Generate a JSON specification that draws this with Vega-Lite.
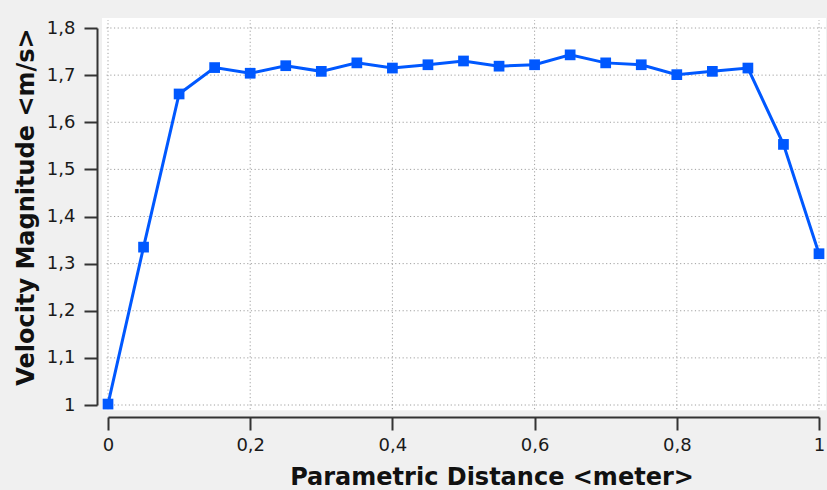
{
  "$schema": "https://vega.github.io/schema/vega-lite/v6.json",
  "width": 711,
  "height": 377,
  "autosize": {"type": "none"},
  "padding": {"left": 108, "top": 28, "right": 8, "bottom": 85},
  "background": "#f0f0f0",
  "config": {"view": {"stroke": null}, "font": "DejaVu Sans"},
  "datasets": {
    "profile": [
      {"distance": 0.0, "velocity": 1.002},
      {"distance": 0.05, "velocity": 1.335},
      {"distance": 0.1, "velocity": 1.660},
      {"distance": 0.15, "velocity": 1.716},
      {"distance": 0.2, "velocity": 1.704},
      {"distance": 0.25, "velocity": 1.720},
      {"distance": 0.3, "velocity": 1.708},
      {"distance": 0.35, "velocity": 1.726},
      {"distance": 0.4, "velocity": 1.715},
      {"distance": 0.45, "velocity": 1.722},
      {"distance": 0.5, "velocity": 1.730},
      {"distance": 0.55, "velocity": 1.719},
      {"distance": 0.6, "velocity": 1.722},
      {"distance": 0.65, "velocity": 1.743},
      {"distance": 0.7, "velocity": 1.726},
      {"distance": 0.75, "velocity": 1.722},
      {"distance": 0.8, "velocity": 1.701},
      {"distance": 0.85, "velocity": 1.708},
      {"distance": 0.9, "velocity": 1.715},
      {"distance": 0.95, "velocity": 1.553},
      {"distance": 1.0, "velocity": 1.321}
    ],
    "xgrid": [
      {"gx": 0}, {"gx": 0.2}, {"gx": 0.4}, {"gx": 0.6}, {"gx": 0.8}, {"gx": 1}
    ],
    "ygrid": [
      {"gy": 1}, {"gy": 1.1}, {"gy": 1.2}, {"gy": 1.3}, {"gy": 1.4},
      {"gy": 1.5}, {"gy": 1.6}, {"gy": 1.7}, {"gy": 1.8}
    ]
  },
  "encoding": {
    "x": {
      "type": "quantitative",
      "title": "Parametric Distance <meter>",
      "scale": {"domain": [0, 1], "nice": false, "zero": false},
      "axis": {
        "values": [0, 0.2, 0.4, 0.6, 0.8, 1],
        "format": "~g",
        "labelExpr": "replace(datum.label, '.', ',')",
        "grid": false,
        "offset": 12,
        "domainColor": "#333333",
        "domainWidth": 2,
        "tickColor": "#333333",
        "tickWidth": 2,
        "tickSize": 13,
        "labelFont": "DejaVu Sans",
        "labelFontSize": 18,
        "labelColor": "#1a1a1a",
        "labelPadding": 6,
        "labelFlush": false,
        "titleFont": "DejaVu Sans",
        "titleFontSize": 24,
        "titleFontWeight": "bold",
        "titleColor": "#111111",
        "titleBaseline": "alphabetic",
        "titleAnchor": "middle",
        "titleX": 383.5,
        "titleY": 67
      }
    },
    "y": {
      "type": "quantitative",
      "title": "Velocity Magnitude <m/s>",
      "scale": {"domain": [1, 1.8], "nice": false, "zero": false},
      "axis": {
        "values": [1, 1.1, 1.2, 1.3, 1.4, 1.5, 1.6, 1.7, 1.8],
        "format": "~g",
        "labelExpr": "replace(datum.label, '.', ',')",
        "grid": false,
        "offset": 11,
        "domainColor": "#333333",
        "domainWidth": 2,
        "tickColor": "#333333",
        "tickWidth": 2,
        "tickSize": 13,
        "labelFont": "DejaVu Sans",
        "labelFontSize": 18,
        "labelColor": "#1a1a1a",
        "labelPadding": 9,
        "labelFlush": false,
        "titleFont": "DejaVu Sans",
        "titleFontSize": 24,
        "titleFontWeight": "bold",
        "titleColor": "#111111",
        "titleAngle": 270,
        "titleBaseline": "alphabetic",
        "titleAnchor": "middle",
        "titleX": -64,
        "titleY": 178.5
      }
    }
  },
  "layer": [
    {
      "description": "white plotting panel",
      "data": {"values": [{}]},
      "mark": {"type": "rect", "color": "white", "clip": false},
      "encoding": {
        "x": {"datum": -0.0084},
        "x2": {"datum": 1.0098},
        "y": {"datum": 0.989},
        "y2": {"datum": 1.821}
      }
    },
    {
      "description": "vertical dotted grid",
      "data": {"name": "xgrid"},
      "mark": {"type": "rule", "color": "#a0a0a0", "strokeWidth": 1, "strokeDash": [1.2, 2.5], "clip": false},
      "encoding": {
        "x": {"field": "gx"},
        "y": {"datum": 0.991},
        "y2": {"datum": 1.817}
      }
    },
    {
      "description": "horizontal dotted grid",
      "data": {"name": "ygrid"},
      "mark": {"type": "rule", "color": "#a0a0a0", "strokeWidth": 1, "strokeDash": [1.2, 2.5], "clip": false},
      "encoding": {
        "y": {"field": "gy"},
        "x": {"datum": -0.002},
        "x2": {"datum": 1.0098}
      }
    },
    {
      "description": "velocity profile",
      "data": {"name": "profile"},
      "mark": {
        "type": "line",
        "color": "#0058ff",
        "strokeWidth": 3,
        "point": {"shape": "square", "size": 115, "filled": true, "color": "#0058ff", "opacity": 1}
      },
      "encoding": {
        "x": {"field": "distance"},
        "y": {"field": "velocity"}
      }
    }
  ]
}
